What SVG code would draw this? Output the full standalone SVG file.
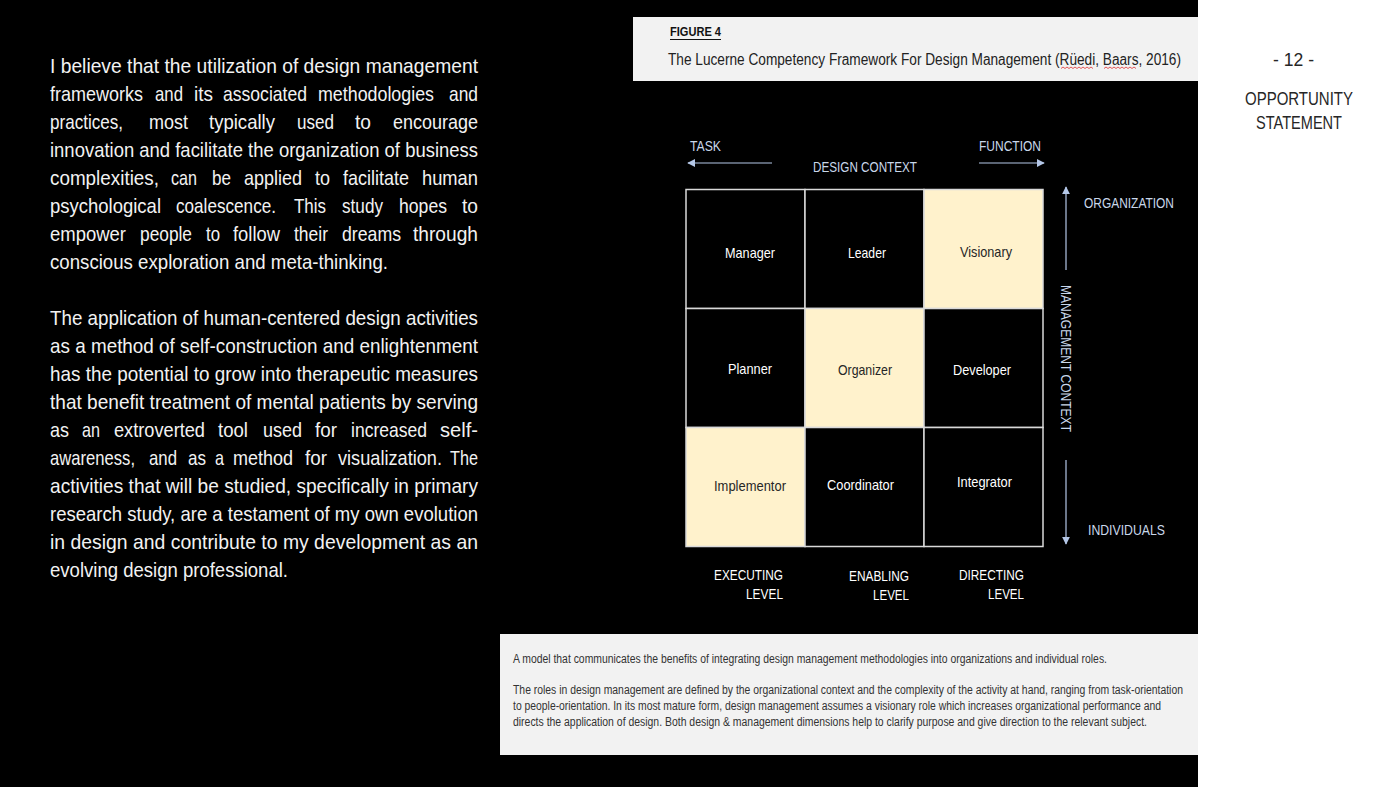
<svg xmlns="http://www.w3.org/2000/svg" width="1399" height="787" viewBox="0 0 1399 787">
<defs>
<style>
text{font-family:"Liberation Sans Narrow","Liberation Sans",Arial,sans-serif;}
.body{fill:#f2f2f2;font-size:21px;}
.lab{fill:#c9d7ea;font-size:14px;}
.cellw{fill:#ffffff;font-size:15px;}
.celld{fill:#262626;font-size:15px;}
.lvl{fill:#ffffff;font-size:14px;}
.cap{fill:#333333;font-size:12px;}
.side{fill:#262626;font-size:19px;}
.cell{stroke:#d9d9d9;stroke-width:1.5;}
.arr{stroke:#b4c7e7;stroke-width:1.2;fill:none;}
</style>
<marker id="ah" viewBox="0 0 10 10" refX="9" refY="5" markerWidth="8" markerHeight="8" markerUnits="userSpaceOnUse" orient="auto">
<path d="M0,0 L10,5 L0,10 z" fill="#b4c7e7"/>
</marker>
</defs>
<rect x="0" y="0" width="1399" height="787" fill="#000000"/>
<rect x="1198" y="0" width="201" height="787" fill="#ffffff"/>

<g id="body-text">
<text class="body" x="50" y="73" textLength="428" lengthAdjust="spacingAndGlyphs">I believe that the utilization of design management</text>
<g>
<text class="body" x="50" y="101" textLength="93" lengthAdjust="spacingAndGlyphs">frameworks</text>
<text class="body" x="155" y="101" textLength="28" lengthAdjust="spacingAndGlyphs">and</text>
<text class="body" x="194" y="101" textLength="19" lengthAdjust="spacingAndGlyphs">its</text>
<text class="body" x="223" y="101" textLength="84" lengthAdjust="spacingAndGlyphs">associated</text>
<text class="body" x="318" y="101" textLength="116" lengthAdjust="spacingAndGlyphs">methodologies</text>
<text class="body" x="449" y="101" textLength="29" lengthAdjust="spacingAndGlyphs">and</text>
</g>
<g>
<text class="body" x="50" y="129" textLength="73" lengthAdjust="spacingAndGlyphs">practices,</text>
<text class="body" x="149" y="129" textLength="39" lengthAdjust="spacingAndGlyphs">most</text>
<text class="body" x="209" y="129" textLength="66" lengthAdjust="spacingAndGlyphs">typically</text>
<text class="body" x="297" y="129" textLength="37" lengthAdjust="spacingAndGlyphs">used</text>
<text class="body" x="355" y="129" textLength="16" lengthAdjust="spacingAndGlyphs">to</text>
<text class="body" x="393" y="129" textLength="85" lengthAdjust="spacingAndGlyphs">encourage</text>
</g>
<text class="body" x="50" y="157" textLength="428" lengthAdjust="spacingAndGlyphs">innovation and facilitate the organization of business</text>
<g>
<text class="body" x="50" y="185" textLength="109" lengthAdjust="spacingAndGlyphs">complexities,</text>
<text class="body" x="171" y="185" textLength="26" lengthAdjust="spacingAndGlyphs">can</text>
<text class="body" x="212" y="185" textLength="19" lengthAdjust="spacingAndGlyphs">be</text>
<text class="body" x="244" y="185" textLength="58" lengthAdjust="spacingAndGlyphs">applied</text>
<text class="body" x="315" y="185" textLength="15" lengthAdjust="spacingAndGlyphs">to</text>
<text class="body" x="343" y="185" textLength="66" lengthAdjust="spacingAndGlyphs">facilitate</text>
<text class="body" x="422" y="185" textLength="56" lengthAdjust="spacingAndGlyphs">human</text>
</g>
<g>
<text class="body" x="50" y="213" textLength="111" lengthAdjust="spacingAndGlyphs">psychological</text>
<text class="body" x="176" y="213" textLength="100" lengthAdjust="spacingAndGlyphs">coalescence.</text>
<text class="body" x="294" y="213" textLength="32" lengthAdjust="spacingAndGlyphs">This</text>
<text class="body" x="342" y="213" textLength="41" lengthAdjust="spacingAndGlyphs">study</text>
<text class="body" x="399" y="213" textLength="48" lengthAdjust="spacingAndGlyphs">hopes</text>
<text class="body" x="462" y="213" textLength="16" lengthAdjust="spacingAndGlyphs">to</text>
</g>
<g>
<text class="body" x="50" y="241" textLength="76" lengthAdjust="spacingAndGlyphs">empower</text>
<text class="body" x="140" y="241" textLength="52" lengthAdjust="spacingAndGlyphs">people</text>
<text class="body" x="206" y="241" textLength="14" lengthAdjust="spacingAndGlyphs">to</text>
<text class="body" x="233" y="241" textLength="47" lengthAdjust="spacingAndGlyphs">follow</text>
<text class="body" x="294" y="241" textLength="34" lengthAdjust="spacingAndGlyphs">their</text>
<text class="body" x="342" y="241" textLength="59" lengthAdjust="spacingAndGlyphs">dreams</text>
<text class="body" x="413" y="241" textLength="65" lengthAdjust="spacingAndGlyphs">through</text>
</g>
<text class="body" x="50" y="269" textLength="338" lengthAdjust="spacingAndGlyphs">conscious exploration and meta-thinking.</text>
<text class="body" x="50" y="325" textLength="428" lengthAdjust="spacingAndGlyphs">The application of human-centered design activities</text>
<text class="body" x="50" y="353" textLength="428" lengthAdjust="spacingAndGlyphs">as a method of self-construction and enlightenment</text>
<text class="body" x="50" y="381" textLength="428" lengthAdjust="spacingAndGlyphs">has the potential to grow into therapeutic measures</text>
<text class="body" x="50" y="409" textLength="428" lengthAdjust="spacingAndGlyphs">that benefit treatment of mental patients by serving</text>
<g>
<text class="body" x="50" y="437" textLength="19" lengthAdjust="spacingAndGlyphs">as</text>
<text class="body" x="82" y="437" textLength="18" lengthAdjust="spacingAndGlyphs">an</text>
<text class="body" x="114" y="437" textLength="91" lengthAdjust="spacingAndGlyphs">extroverted</text>
<text class="body" x="218" y="437" textLength="30" lengthAdjust="spacingAndGlyphs">tool</text>
<text class="body" x="263" y="437" textLength="39" lengthAdjust="spacingAndGlyphs">used</text>
<text class="body" x="315" y="437" textLength="22" lengthAdjust="spacingAndGlyphs">for</text>
<text class="body" x="351" y="437" textLength="76" lengthAdjust="spacingAndGlyphs">increased</text>
<text class="body" x="440" y="437" textLength="38" lengthAdjust="spacingAndGlyphs">self-</text>
</g>
<g>
<text class="body" x="50" y="465" textLength="85" lengthAdjust="spacingAndGlyphs">awareness,</text>
<text class="body" x="149" y="465" textLength="28" lengthAdjust="spacingAndGlyphs">and</text>
<text class="body" x="188" y="465" textLength="18" lengthAdjust="spacingAndGlyphs">as</text>
<text class="body" x="215" y="465" textLength="9" lengthAdjust="spacingAndGlyphs">a</text>
<text class="body" x="233" y="465" textLength="60" lengthAdjust="spacingAndGlyphs">method</text>
<text class="body" x="305" y="465" textLength="22" lengthAdjust="spacingAndGlyphs">for</text>
<text class="body" x="338" y="465" textLength="104" lengthAdjust="spacingAndGlyphs">visualization.</text>
<text class="body" x="450" y="465" textLength="28" lengthAdjust="spacingAndGlyphs">The</text>
</g>
<text class="body" x="50" y="493" textLength="428" lengthAdjust="spacingAndGlyphs">activities that will be studied, specifically in primary</text>
<text class="body" x="50" y="521" textLength="428" lengthAdjust="spacingAndGlyphs">research study, are a testament of my own evolution</text>
<text class="body" x="50" y="549" textLength="428" lengthAdjust="spacingAndGlyphs">in design and contribute to my development as an</text>
<text class="body" x="50" y="577" textLength="238" lengthAdjust="spacingAndGlyphs">evolving design professional.</text>
</g>

<g id="figure-title">
<rect x="633" y="17" width="565" height="64" fill="#f2f2f2"/>
<text x="670" y="36" font-size="13" font-weight="bold" fill="#111111" textLength="51" lengthAdjust="spacingAndGlyphs">FIGURE 4</text>
<line x1="670" y1="39.5" x2="721" y2="39.5" stroke="#111111" stroke-width="1"/>
<text x="668" y="65" font-size="16" fill="#222222" textLength="513" lengthAdjust="spacingAndGlyphs">The Lucerne Competency Framework For Design Management (Rüedi, Baars, 2016)</text>
<path d="M1061,68.5 l2,-1.5 l2,1.5 l2,-1.5 l2,1.5 l2,-1.5 l2,1.5 l2,-1.5 l2,1.5 l2,-1.5 l2,1.5 l2,-1.5 l2,1.5 l2,-1.5 l2,1.5 l2,-1.5 l2,1.5" fill="none" stroke="#e03030" stroke-width="0.8"/>
<path d="M1104,68.5 l2,-1.5 l2,1.5 l2,-1.5 l2,1.5 l2,-1.5 l2,1.5 l2,-1.5 l2,1.5 l2,-1.5 l2,1.5 l2,-1.5 l2,1.5 l2,-1.5 l2,1.5 l2,-1.5 l2,1.5" fill="none" stroke="#e03030" stroke-width="0.8"/>
</g>

<g id="connectors">
<line class="arr" x1="772" y1="163" x2="688" y2="163" marker-end="url(#ah)"/>
<line class="arr" x1="979" y1="163" x2="1044" y2="163" marker-end="url(#ah)"/>
<line class="arr" x1="1066" y1="270" x2="1066" y2="187" marker-end="url(#ah)"/>
<line class="arr" x1="1066" y1="460" x2="1066" y2="544" marker-end="url(#ah)"/>
</g>

<g id="axis-labels">
<text class="lab" x="690" y="151" textLength="31" lengthAdjust="spacingAndGlyphs">TASK</text>
<text class="lab" x="979" y="151" textLength="62" lengthAdjust="spacingAndGlyphs">FUNCTION</text>
<text class="lab" x="813" y="172" textLength="104" lengthAdjust="spacingAndGlyphs">DESIGN CONTEXT</text>
<text class="lab" x="1084" y="208" textLength="90" lengthAdjust="spacingAndGlyphs">ORGANIZATION</text>
<text class="lab" x="1088" y="535" textLength="77" lengthAdjust="spacingAndGlyphs">INDIVIDUALS</text>
<text class="lab" transform="translate(1061,285) rotate(90)" x="0" y="0" textLength="147" lengthAdjust="spacingAndGlyphs">MANAGEMENT CONTEXT</text>
</g>

<g id="level-labels">
<text class="lvl" x="714" y="580" textLength="69" lengthAdjust="spacingAndGlyphs">EXECUTING</text>
<text class="lvl" x="746" y="599" textLength="37" lengthAdjust="spacingAndGlyphs">LEVEL</text>
<text class="lvl" x="849" y="581" textLength="60" lengthAdjust="spacingAndGlyphs">ENABLING</text>
<text class="lvl" x="873" y="600" textLength="36" lengthAdjust="spacingAndGlyphs">LEVEL</text>
<text class="lvl" x="959" y="580" textLength="65" lengthAdjust="spacingAndGlyphs">DIRECTING</text>
<text class="lvl" x="988" y="599" textLength="36" lengthAdjust="spacingAndGlyphs">LEVEL</text>
</g>

<g id="node-manager"><rect class="cell" x="686" y="189.5" width="119" height="119" fill="#000000"/><text class="cellw" x="725" y="258" textLength="50" lengthAdjust="spacingAndGlyphs">Manager</text></g>
<g id="node-leader"><rect class="cell" x="805" y="189.5" width="119" height="119" fill="#000000"/><text class="cellw" x="848" y="258" textLength="38" lengthAdjust="spacingAndGlyphs">Leader</text></g>
<g id="node-visionary"><rect class="cell" x="924" y="189.5" width="119" height="119" fill="#fff2cc"/><text class="celld" x="960" y="257" textLength="52" lengthAdjust="spacingAndGlyphs">Visionary</text></g>
<g id="node-planner"><rect class="cell" x="686" y="308.5" width="119" height="119" fill="#000000"/><text class="cellw" x="728" y="374" textLength="44" lengthAdjust="spacingAndGlyphs">Planner</text></g>
<g id="node-organizer"><rect class="cell" x="805" y="308.5" width="119" height="119" fill="#fff2cc"/><text class="celld" x="838" y="375" textLength="54" lengthAdjust="spacingAndGlyphs">Organizer</text></g>
<g id="node-developer"><rect class="cell" x="924" y="308.5" width="119" height="119" fill="#000000"/><text class="cellw" x="953" y="375" textLength="58" lengthAdjust="spacingAndGlyphs">Developer</text></g>
<g id="node-implementor"><rect class="cell" x="686" y="427.5" width="119" height="119" fill="#fff2cc"/><text class="celld" x="714" y="491" textLength="72" lengthAdjust="spacingAndGlyphs">Implementor</text></g>
<g id="node-coordinator"><rect class="cell" x="805" y="427.5" width="119" height="119" fill="#000000"/><text class="cellw" x="827" y="490" textLength="67" lengthAdjust="spacingAndGlyphs">Coordinator</text></g>
<g id="node-integrator"><rect class="cell" x="924" y="427.5" width="119" height="119" fill="#000000"/><text class="cellw" x="957" y="487" textLength="55" lengthAdjust="spacingAndGlyphs">Integrator</text></g>

<g id="caption">
<rect x="500" y="634" width="698" height="121" fill="#f2f2f2"/>
<text class="cap" x="513" y="663" textLength="594" lengthAdjust="spacingAndGlyphs">A model that communicates the benefits of integrating design management methodologies into organizations and individual roles.</text>
<text class="cap" x="513" y="694" textLength="670" lengthAdjust="spacingAndGlyphs">The roles in design management are defined by the organizational context and the complexity of the activity at hand, ranging from task-orientation</text>
<text class="cap" x="513" y="710" textLength="648" lengthAdjust="spacingAndGlyphs">to people-orientation. In its most mature form, design management assumes a visionary role which increases organizational performance and</text>
<text class="cap" x="513" y="726" textLength="634" lengthAdjust="spacingAndGlyphs">directs the application of design. Both design &amp; management dimensions help to clarify purpose and give direction to the relevant subject.</text>
</g>

<g id="page-side">
<text class="side" x="1273" y="66" textLength="41" lengthAdjust="spacingAndGlyphs">- 12 -</text>
<text class="side" x="1245" y="105" textLength="108" lengthAdjust="spacingAndGlyphs">OPPORTUNITY</text>
<text class="side" x="1256" y="129" textLength="86" lengthAdjust="spacingAndGlyphs">STATEMENT</text>
</g>
</svg>
